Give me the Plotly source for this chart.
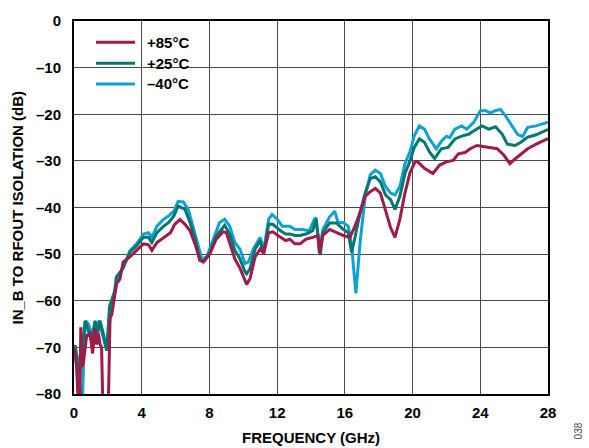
import plotly.graph_objects as go

# ---- data ----
freq_85 = [0.0, 0.15, 0.25, 0.35, 0.4, 0.45, 0.55, 0.75, 0.95, 1.1, 1.24, 1.34, 1.44, 1.54, 1.63, 1.7, 2.03,
           2.13, 2.23, 2.32, 2.52, 2.72, 2.9, 3.3, 3.7, 4.1, 4.4, 4.6, 4.9, 5.3, 5.7, 5.95, 6.26, 6.56, 6.85,
           7.15, 7.44, 7.64, 8.03, 8.4, 8.8, 9.0, 9.2, 9.5, 9.8, 10.1, 10.2, 10.4, 10.7, 11.0, 11.2, 11.5,
           11.75, 12.2, 12.5, 12.75, 13.05, 13.35, 13.7, 14.1, 14.4, 14.5, 14.7, 15.1, 15.5, 15.9, 16.3, 16.6,
           16.9, 17.2, 17.5, 17.8, 18.1, 18.4, 18.7, 18.96, 19.25, 19.55, 19.85, 20.15, 20.3, 20.7, 21.2,
           21.6, 22.0, 22.4, 22.7, 23.1, 23.4, 23.8, 24.2, 24.6, 25.0, 25.4, 25.75, 26.05, 26.4, 26.8, 27.3,
           27.9, 28.0]
iso_85 = [-70, -74, -82, -82, -65.7, -74.2, -73.4, -67.5, -67, -71.3, -65.9, -69.4, -67, -69.4, -70, -82, -82,
          -63.6, -63, -61.2, -56.3, -55.3, -51.7, -50.6, -49.2, -47.8, -48, -49.2, -47.5, -46.4, -45.4, -43.6,
          -42.6, -43.6, -45, -47.8, -51.3, -51.7, -49.9, -46.8, -45.2, -45.4, -47.5, -51, -53, -55.9, -56.5,
          -55.2, -50.6, -48.9, -49.9, -45.4, -45.2, -46.4, -47.1, -46.8, -47.8, -47.8, -46.8, -46.4, -46,
          -49.8, -46, -44.7, -45.4, -46, -46.4, -44, -41.1, -37.6, -36.6, -35.9, -36.9, -40.4, -44.3, -46.4,
          -42.5, -36.9, -32.5, -30.2, -30.2, -31.6, -32.7, -30.9, -30.2, -29.9, -28.5, -28.2, -27.4, -26.7,
          -26.9, -27.1, -27.4, -28.8, -30.6, -29.6, -28.5, -27.4, -26.4, -25.3, -25.2]

freq_25 = [0.0, 0.06, 0.3, 0.45, 0.65, 0.85, 1.05, 1.24, 1.4, 1.54, 1.73, 1.93, 2.1, 2.4, 2.5, 2.9, 3.3, 3.7,
           4.1, 4.4, 4.6, 4.9, 5.3, 5.6, 5.9, 6.15, 6.36, 6.56, 6.85, 7.15, 7.44, 7.74, 8.03, 8.4, 8.8, 8.9,
           9.2, 9.5, 9.8, 10.1, 10.2, 10.4, 10.7, 11.0, 11.2, 11.5, 11.75, 12.2, 12.5, 12.75, 13.05, 13.35,
           13.7, 14.1, 14.3, 14.55, 14.7, 15.1, 15.5, 15.9, 16.2, 16.4, 16.6, 16.9, 17.2, 17.5, 17.8, 18.1,
           18.4, 18.7, 18.96, 19.25, 19.55, 19.85, 20.1, 20.4, 20.7, 21.0, 21.3, 21.7, 22.1, 22.5, 22.9,
           23.3, 23.7, 24.1, 24.5, 24.9, 25.3, 25.6, 26.05, 26.4, 26.8, 27.3, 27.9, 28.0]
iso_25 = [-70, -69.6, -76, -72, -64.3, -66.5, -68.6, -64.3, -67, -64.3, -67, -70.7, -61.2, -58, -54.9, -53,
          -49.6, -48.2, -46.4, -46.4, -47.5, -45.4, -44, -43.2, -41.8, -39.7, -40.1, -40.4, -43.2, -46.8,
          -51.3, -51.3, -49.6, -46.1, -44.3, -43.8, -45.7, -49.2, -51, -53.8, -54.2, -53.1, -48.9, -47.1,
          -49.9, -43.6, -43.6, -45, -45.7, -45.7, -46, -46, -45.7, -45, -42.5, -50.2, -45.4, -43.3, -43.3,
          -44.7, -45.4, -49.6, -46.4, -41.1, -36.9, -33.8, -33.4, -34.5, -37.3, -38.3, -40.4, -37.6, -32.7,
          -30, -27.1, -25.3, -26, -28.1, -29.5, -27.4, -27.1, -25.3, -24.7, -24.3, -23.4, -22.5, -23.2,
          -22.7, -24.3, -26.4, -26.7, -26, -24.9, -24.4, -23.4, -23.3]

freq_m40 = [0.0, 0.06, 0.25, 0.4, 0.5, 0.6, 0.7, 0.85, 1.05, 1.14, 1.34, 1.5, 1.63, 1.83, 1.93, 2.09, 2.23,
            2.42, 2.62, 2.9, 3.3, 3.7, 4.1, 4.4, 4.6, 4.9, 5.3, 5.6, 5.9, 6.15, 6.46, 6.75, 6.95, 7.25, 7.55,
            7.84, 8.2, 8.6, 8.9, 9.2, 9.5, 9.8, 10.1, 10.3, 10.6, 11.0, 11.2, 11.5, 11.7, 12.0, 12.3, 12.75,
            13.05, 13.5, 13.9, 14.2, 14.3, 14.5, 14.7, 15.1, 15.4, 15.6, 15.9, 16.2, 16.4, 16.65, 16.9, 17.2,
            17.5, 17.8, 18.1, 18.4, 18.7, 18.96, 19.25, 19.55, 19.85, 20.1, 20.4, 20.7, 21.0, 21.4, 21.7,
            22.0, 22.2, 22.5, 22.9, 23.2, 23.6, 24.0, 24.3, 24.6, 24.9, 25.2, 25.5, 25.85, 26.2, 26.5, 26.8,
            27.3, 27.9, 28.0]
iso_m40 = [-70, -69.6, -73, -82, -82, -68.6, -64.3, -65, -67, -68.6, -65, -64.3, -66.5, -69.4, -70, -64.3,
           -60.8, -57.7, -54.5, -53, -49.3, -47.8, -45.7, -45.4, -46.4, -44, -42.5, -41.8, -40.8, -38.7,
           -38.8, -40.4, -43.2, -47.1, -51, -50.6, -47.1, -43.2, -42.5, -44, -47.5, -48.9, -52, -51.7, -48.9,
           -46.4, -49.2, -42.5, -41.5, -42.5, -44, -44, -44.7, -44.7, -45, -42.5, -42.2, -49.2, -44.7, -42,
           -40.8, -43.2, -43.2, -44, -48.2, -58.4, -47.5, -37.6, -33, -32, -32.7, -35.5, -36.9, -37.3, -35.5,
           -30.6, -28, -24.6, -22.5, -23.2, -25.3, -27.4, -25.8, -24.7, -25, -23.2, -22.5, -23.2, -21.8,
           -19.3, -19.2, -19.7, -19.2, -19, -20.4, -22.5, -24.3, -24.8, -22.8, -22.5, -21.8, -21.7]

series_names = ["+85°C", "+25°C", "–40°C"]
series_colors = ["#A01A4A", "#007870", "#0FA0D4"]

x_tickvals = [0, 4, 8, 12, 16, 20, 24, 28]
x_ticktext = ["0", "4", "8", "12", "16", "20", "24", "28"]
y_tickvals = [0, -10, -20, -30, -40, -50, -60, -70, -80]
y_ticktext = ["0", "–10", "–20", "–30", "–40", "–50", "–60", "–70", "–80"]

FONT = "Liberation Sans, Arial, Helvetica, sans-serif"

fig = go.Figure()
data = [(freq_85, iso_85), (freq_25, iso_25), (freq_m40, iso_m40)]
# draw -40 first so +85 ends on top
for i in [2, 1, 0]:
    fx, fy = data[i]
    fig.add_trace(go.Scatter(x=fx, y=fy, mode="lines", name=series_names[i],
                             line=dict(color=series_colors[i], width=3)))

fig.update_layout(
    width=589, height=448,
    margin=dict(l=74, r=41, t=15, b=54),
    paper_bgcolor="white", plot_bgcolor="white",
    font=dict(family=FONT, color="black"),
    showlegend=False,
)
fig.update_xaxes(range=[0, 28], tickvals=x_tickvals, ticktext=x_ticktext,
                 showgrid=True, gridcolor="#4a4a4a", gridwidth=1,
                 showline=True, linecolor="black", linewidth=2, mirror=True,
                 ticks="", ticklabelstandoff=4, zeroline=False,
                 tickfont=dict(family=FONT, size=15, weight="bold", color="black"))
fig.update_yaxes(range=[-80, 0], tickvals=y_tickvals, ticktext=y_ticktext,
                 showgrid=True, gridcolor="#4a4a4a", gridwidth=1,
                 showline=True, linecolor="black", linewidth=2, mirror=True,
                 ticks="", ticklabelstandoff=8, zeroline=False,
                 tickfont=dict(family=FONT, size=15, weight="bold", color="black"))

# ---- legend (drawn by hand to match the reference layout) ----
PW, PH, L, T = 474.0, 379.0, 74.0, 15.0
def px_x(p):
    return (p - L) / PW
def px_y(p):
    return (T + PH - p) / PH

fig.add_shape(type="rect", xref="paper", yref="paper", layer="between",
              x0=px_x(88), x1=px_x(200), y0=px_y(92), y1=px_y(25),
              fillcolor="white", line=dict(width=0))
legend_rows = [36.5, 58, 79]
for name, color, ry in zip(series_names, series_colors, legend_rows):
    fig.add_shape(type="line", xref="paper", yref="paper",
                  x0=px_x(96), x1=px_x(135), y0=px_y(ry), y1=px_y(ry),
                  line=dict(color=color, width=3))
    fig.add_annotation(text=name, xref="paper", yref="paper", x=px_x(145), y=px_y(ry),
                       xanchor="left", yanchor="middle", showarrow=False,
                       font=dict(family=FONT, size=15, weight="bold", color="black"))

fig.add_annotation(text="FREQUENCY (GHz)", xref="paper", yref="paper", x=0.5, y=px_y(438),
                   xanchor="center", yanchor="middle", showarrow=False,
                   font=dict(family=FONT, size=15, weight="bold", color="black"))
fig.add_annotation(text="IN_B TO RFOUT ISOLATION (dB)", xref="paper", yref="paper", x=px_x(17), y=0.5,
                   xanchor="center", yanchor="middle", textangle=-90, showarrow=False,
                   font=dict(family=FONT, size=15, weight="bold", color="black"))
fig.add_annotation(text="038", xref="paper", yref="paper", x=px_x(578), y=px_y(432),
                   xanchor="center", yanchor="middle", textangle=-90, showarrow=False,
                   font=dict(family=FONT, size=10, color="#444444"))

fig.write_html("out.html", config={"displayModeBar": False},
               post_script="document.body.style.margin='0';document.body.style.padding='0';")
